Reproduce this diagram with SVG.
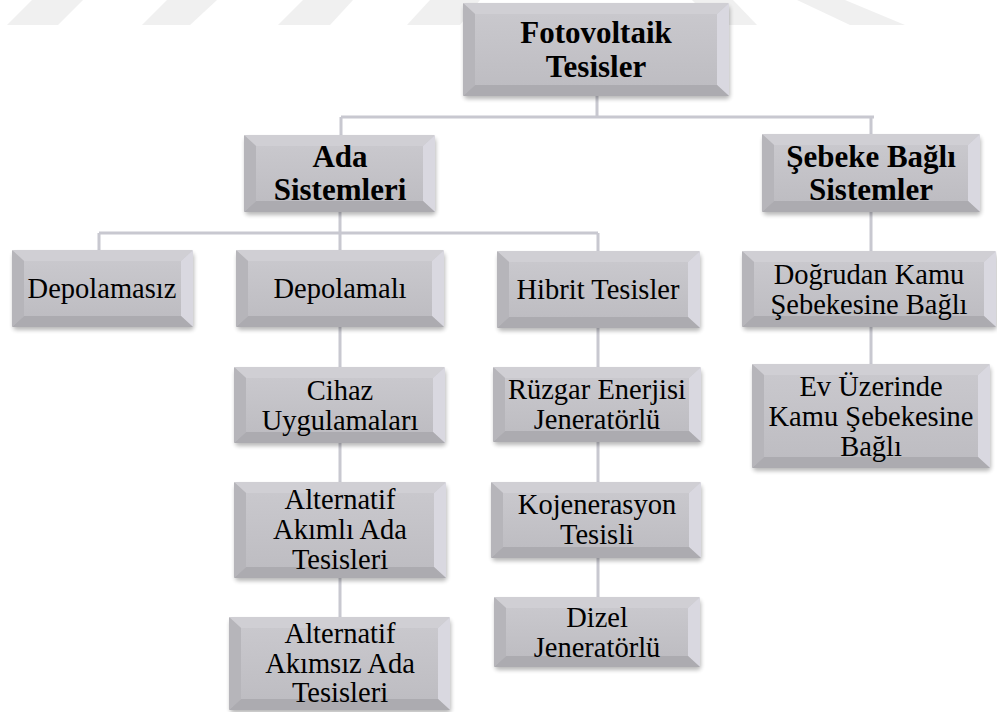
<svg xmlns="http://www.w3.org/2000/svg" width="997" height="712" viewBox="0 0 997 712">
<defs>
<linearGradient id="face" x1="0" y1="0" x2="0" y2="1">
<stop offset="0" stop-color="#c9c8cd"/>
<stop offset="1" stop-color="#bebdc2"/>
</linearGradient>
<filter id="sh" x="-10%" y="-10%" width="120%" height="130%">
<feGaussianBlur in="SourceAlpha" stdDeviation="2"/>
<feOffset dx="1" dy="3" result="b"/>
<feComponentTransfer><feFuncA type="linear" slope="0.28"/></feComponentTransfer>
<feMerge><feMergeNode/><feMergeNode in="SourceGraphic"/></feMerge>
</filter>
</defs>
<style>
.wm{fill:#f0f0f0}
.base{fill:#c3c2c7;filter:url(#sh)}
.top{fill:#d0cfd4}
.lft{fill:#b6b5ba}
.rgt{fill:#d9d8e0}
.bot{fill:#acabb0}
.fc{fill:url(#face)}
.conn{fill:none;stroke:#c8c8d0;stroke-width:3}
text{font-family:'Liberation Serif','Times New Roman',Tinos,serif;fill:#000;text-anchor:middle}
.b{font-weight:bold;font-size:31px}
.r{font-size:28.5px}
</style>
<rect width="997" height="712" fill="#fff"/>
<g id="watermark">
<polygon class="wm" points="32,0 83,0 58,25 7,25"/>
<polygon class="wm" points="167,0 217,0 190,25 142,25"/>
<polygon class="wm" points="303,0 353,0 330,25 278,25"/>
<polygon class="wm" points="430,0 480,0 460,25 407,25"/>
<polygon class="wm" points="692,0 733,0 757,25 717,25"/>
<polygon class="wm" points="797,0 845,0 905,25 850,25"/>
</g>
<g id="connectors">
<path class="conn" d="M597,96 V117 M341,117 H874 M341,117 V135 M871,117 V134"/>
<path class="conn" d="M340,212 V233 M99,233 H598 M99,233 V250 M340,233 V250 M598,233 V251"/>
<path class="conn" d="M340,327 V367 M340,443 V482 M340,578 V617"/>
<path class="conn" d="M598,328 V367 M598,442 V482 M598,558 V597"/>
<path class="conn" d="M871,212 V251 M871,327 V364"/>
</g>
<g id="n-fotovoltaik">
<rect class="base" x="463" y="3" width="266" height="93" rx="4"/>
<polygon class="top" points="463,3 729,3 717,14 475,14"/>
<polygon class="lft" points="463,3 475,14 475,85 463,96"/>
<polygon class="rgt" points="729,3 729,96 717,85 717,14"/>
<polygon class="bot" points="463,96 475,85 717,85 729,96"/>
<rect class="fc" x="475" y="14" width="242" height="71"/>
<text class="b" x="596" y="43">Fotovoltaik</text>
<text class="b" x="596" y="77">Tesisler</text>
</g>
<g id="n-ada">
<rect class="base" x="244" y="135" width="191" height="77" rx="4"/>
<polygon class="top" points="244,135 435,135 423,146 256,146"/>
<polygon class="lft" points="244,135 256,146 256,201 244,212"/>
<polygon class="rgt" points="435,135 435,212 423,201 423,146"/>
<polygon class="bot" points="244,212 256,201 423,201 435,212"/>
<rect class="fc" x="256" y="146" width="167" height="55"/>
<text class="b" x="340" y="167">Ada</text>
<text class="b" x="340" y="200">Sistemleri</text>
</g>
<g id="n-sebeke">
<rect class="base" x="762" y="134" width="218" height="78" rx="4"/>
<polygon class="top" points="762,134 980,134 968,145 774,145"/>
<polygon class="lft" points="762,134 774,145 774,201 762,212"/>
<polygon class="rgt" points="980,134 980,212 968,201 968,145"/>
<polygon class="bot" points="762,212 774,201 968,201 980,212"/>
<rect class="fc" x="774" y="145" width="194" height="56"/>
<text class="b" x="871" y="167">Şebeke Bağlı</text>
<text class="b" x="871" y="200">Sistemler</text>
</g>
<g id="n-depolamasiz">
<rect class="base" x="12" y="250" width="181" height="77" rx="4"/>
<polygon class="top" points="12,250 193,250 181,261 24,261"/>
<polygon class="lft" points="12,250 24,261 24,316 12,327"/>
<polygon class="rgt" points="193,250 193,327 181,316 181,261"/>
<polygon class="bot" points="12,327 24,316 181,316 193,327"/>
<rect class="fc" x="24" y="261" width="157" height="55"/>
<text class="r" x="102" y="298">Depolamasız</text>
</g>
<g id="n-depolamali">
<rect class="base" x="236" y="250" width="208" height="77" rx="4"/>
<polygon class="top" points="236,250 444,250 432,261 248,261"/>
<polygon class="lft" points="236,250 248,261 248,316 236,327"/>
<polygon class="rgt" points="444,250 444,327 432,316 432,261"/>
<polygon class="bot" points="236,327 248,316 432,316 444,327"/>
<rect class="fc" x="248" y="261" width="184" height="55"/>
<text class="r" x="340" y="298">Depolamalı</text>
</g>
<g id="n-hibrit">
<rect class="base" x="497" y="251" width="203" height="77" rx="4"/>
<polygon class="top" points="497,251 700,251 688,262 509,262"/>
<polygon class="lft" points="497,251 509,262 509,317 497,328"/>
<polygon class="rgt" points="700,251 700,328 688,317 688,262"/>
<polygon class="bot" points="497,328 509,317 688,317 700,328"/>
<rect class="fc" x="509" y="262" width="179" height="55"/>
<text class="r" x="598" y="299">Hibrit Tesisler</text>
</g>
<g id="n-dogrudan">
<rect class="base" x="742" y="251" width="254" height="76" rx="4"/>
<polygon class="top" points="742,251 996,251 984,262 754,262"/>
<polygon class="lft" points="742,251 754,262 754,316 742,327"/>
<polygon class="rgt" points="996,251 996,327 984,316 984,262"/>
<polygon class="bot" points="742,327 754,316 984,316 996,327"/>
<rect class="fc" x="754" y="262" width="230" height="54"/>
<text class="r" x="869" y="284">Doğrudan Kamu</text>
<text class="r" x="869" y="314">Şebekesine Bağlı</text>
</g>
<g id="n-cihaz">
<rect class="base" x="234" y="367" width="211" height="76" rx="4"/>
<polygon class="top" points="234,367 445,367 433,378 246,378"/>
<polygon class="lft" points="234,367 246,378 246,432 234,443"/>
<polygon class="rgt" points="445,367 445,443 433,432 433,378"/>
<polygon class="bot" points="234,443 246,432 433,432 445,443"/>
<rect class="fc" x="246" y="378" width="187" height="54"/>
<text class="r" x="340" y="400">Cihaz</text>
<text class="r" x="340" y="430">Uygulamaları</text>
</g>
<g id="n-akimli">
<rect class="base" x="234" y="482" width="212" height="96" rx="4"/>
<polygon class="top" points="234,482 446,482 434,493 246,493"/>
<polygon class="lft" points="234,482 246,493 246,567 234,578"/>
<polygon class="rgt" points="446,482 446,578 434,567 434,493"/>
<polygon class="bot" points="234,578 246,567 434,567 446,578"/>
<rect class="fc" x="246" y="493" width="188" height="74"/>
<text class="r" x="340" y="509">Alternatif</text>
<text class="r" x="340" y="539">Akımlı Ada</text>
<text class="r" x="340" y="569">Tesisleri</text>
</g>
<g id="n-akimsiz">
<rect class="base" x="229" y="617" width="221" height="93" rx="4"/>
<polygon class="top" points="229,617 450,617 438,628 241,628"/>
<polygon class="lft" points="229,617 241,628 241,699 229,710"/>
<polygon class="rgt" points="450,617 450,710 438,699 438,628"/>
<polygon class="bot" points="229,710 241,699 438,699 450,710"/>
<rect class="fc" x="241" y="628" width="197" height="71"/>
<text class="r" x="340" y="643">Alternatif</text>
<text class="r" x="340" y="673">Akımsız Ada</text>
<text class="r" x="340" y="702">Tesisleri</text>
</g>
<g id="n-ruzgar">
<rect class="base" x="493" y="367" width="208" height="75" rx="4"/>
<polygon class="top" points="493,367 701,367 689,378 505,378"/>
<polygon class="lft" points="493,367 505,378 505,431 493,442"/>
<polygon class="rgt" points="701,367 701,442 689,431 689,378"/>
<polygon class="bot" points="493,442 505,431 689,431 701,442"/>
<rect class="fc" x="505" y="378" width="184" height="53"/>
<text class="r" x="597" y="399">Rüzgar Enerjisi</text>
<text class="r" x="597" y="429">Jeneratörlü</text>
</g>
<g id="n-kojenerasyon">
<rect class="base" x="491" y="482" width="210" height="76" rx="4"/>
<polygon class="top" points="491,482 701,482 689,493 503,493"/>
<polygon class="lft" points="491,482 503,493 503,547 491,558"/>
<polygon class="rgt" points="701,482 701,558 689,547 689,493"/>
<polygon class="bot" points="491,558 503,547 689,547 701,558"/>
<rect class="fc" x="503" y="493" width="186" height="54"/>
<text class="r" x="597" y="514">Kojenerasyon</text>
<text class="r" x="597" y="544">Tesisli</text>
</g>
<g id="n-dizel">
<rect class="base" x="494" y="597" width="206" height="70" rx="4"/>
<polygon class="top" points="494,597 700,597 688,608 506,608"/>
<polygon class="lft" points="494,597 506,608 506,656 494,667"/>
<polygon class="rgt" points="700,597 700,667 688,656 688,608"/>
<polygon class="bot" points="494,667 506,656 688,656 700,667"/>
<rect class="fc" x="506" y="608" width="182" height="48"/>
<text class="r" x="597" y="627">Dizel</text>
<text class="r" x="597" y="657">Jeneratörlü</text>
</g>
<g id="n-ev">
<rect class="base" x="752" y="364" width="238" height="104" rx="4"/>
<polygon class="top" points="752,364 990,364 978,375 764,375"/>
<polygon class="lft" points="752,364 764,375 764,457 752,468"/>
<polygon class="rgt" points="990,364 990,468 978,457 978,375"/>
<polygon class="bot" points="752,468 764,457 978,457 990,468"/>
<rect class="fc" x="764" y="375" width="214" height="82"/>
<text class="r" x="871" y="396">Ev Üzerinde</text>
<text class="r" x="871" y="426">Kamu Şebekesine</text>
<text class="r" x="871" y="456">Bağlı</text>
</g>
</svg>
